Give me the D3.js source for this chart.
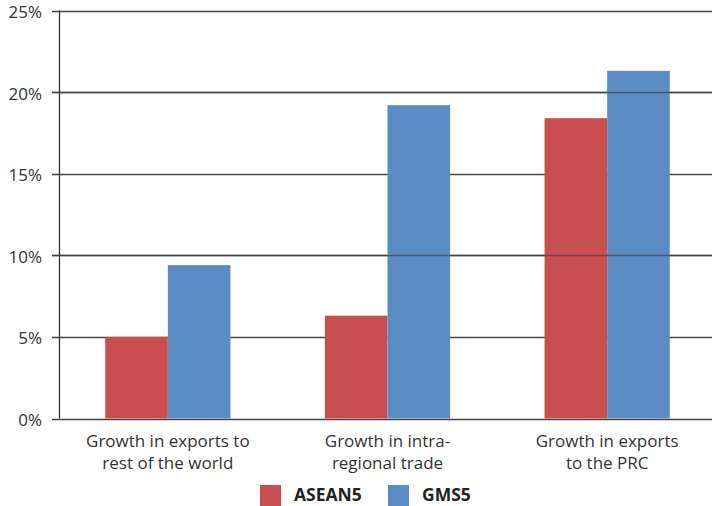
<!DOCTYPE html>
<html><head><meta charset="utf-8">
<script src="https://cdn.jsdelivr.net/npm/d3@7"></script>
<style>
html,body{margin:0;padding:0;background:#fff;}
text{font-family:"Open Sans",sans-serif;}
</style></head>
<body><svg id="c" width="712" height="506"></svg>
<script>
const categories = [["Growth in exports to","rest of the world"],["Growth in intra-","regional trade"],["Growth in exports","to the PRC"]];
const seriesNames = ["ASEAN5","GMS5"];
const asean5 = [5.0, 6.3, 18.4];
const gms5 = [9.4, 19.2, 21.3];
const yTicks = [0,5,10,15,20,25];
const overTicks = [10,20];
const colors = ["#c94e4f","#5b8bc3"];

const svg = d3.select("#c");
const x0 = d3.scaleBand().domain(d3.range(categories.length)).range([58,717]).paddingInner(0.43).paddingOuter(0.215);
const x1 = d3.scaleBand().domain([0,1]).range([0,x0.bandwidth()]);
const y = d3.scaleLinear().domain([0,25]).range([418.5,10.5]);

function grid(g, ticks){
  g.selectAll("line").data(ticks).join("line")
    .attr("x1",52).attr("x2",712)
    .attr("y1",d=>Math.round(y(d))+0.5).attr("y2",d=>Math.round(y(d))+0.5)
    .attr("stroke","#444").attr("stroke-width",1.3);
}
grid(svg.append("g"), yTicks);

const data = [asean5, gms5];
const gb = svg.append("g");
categories.forEach((c,i)=>{
  data.forEach((s,j)=>{
    gb.append("rect")
      .attr("x",x0(i)+x1(j)).attr("width",x1.bandwidth())
      .attr("y",y(s[i])).attr("height",y(0)-y(s[i]))
      .attr("fill",colors[j]);
  });
});
grid(svg.append("g").attr("opacity",0.7), overTicks);

// y axis line
svg.append("line").attr("x1",59.5).attr("x2",59.5).attr("y1",y(25)).attr("y2",y(0)).attr("stroke","#333").attr("stroke-width",1.3);

// y tick labels
svg.append("g").selectAll("text").data(yTicks).join("text")
  .attr("x",42).attr("y",d=>y(d)+7.5).attr("text-anchor","end")
  .attr("font-size",17).attr("fill","#333").text(d=>d+"%");

// category labels
const cl = svg.append("g");
categories.forEach((c,i)=>{
  const t = cl.append("text").attr("text-anchor","middle").attr("font-size",17).attr("fill","#333");
  c.forEach((line,k)=>{
    t.append("tspan").attr("x",x0(i)+x0.bandwidth()/2).attr("y",447+k*21.5).text(line);
  });
});

// legend
const lg = svg.append("g");
const legX = [260,388];
seriesNames.forEach((n,j)=>{
  lg.append("rect").attr("x",legX[j]).attr("y",485).attr("width",21).attr("height",21).attr("fill",colors[j]);
  lg.append("text").attr("x",legX[j]+34).attr("y",500.5).attr("font-size",17.5).attr("font-weight","bold").attr("fill","#222").text(n);
});
</script></body></html>
